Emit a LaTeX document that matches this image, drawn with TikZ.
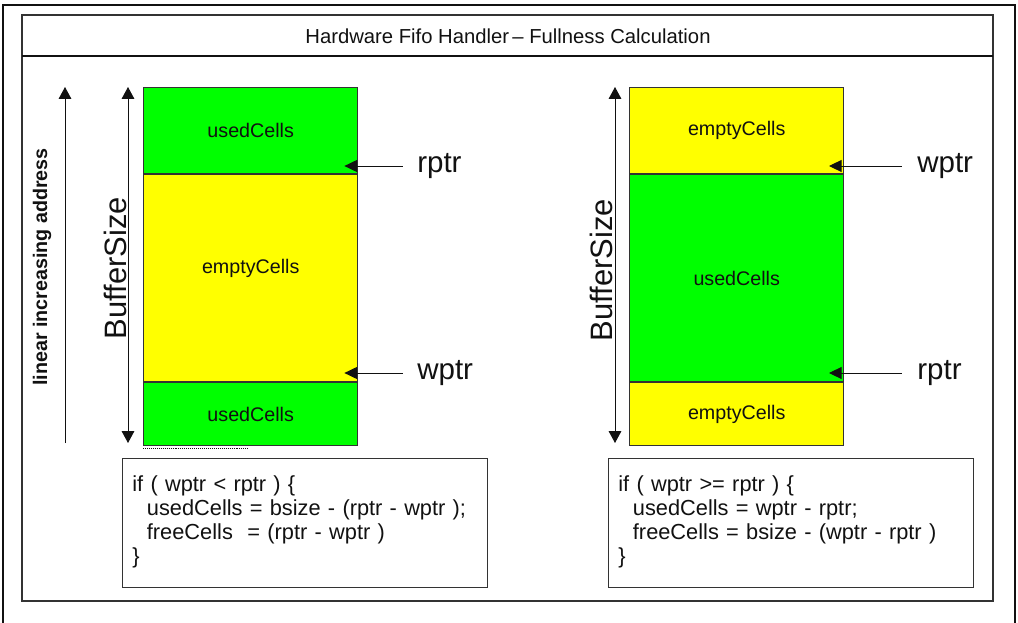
\documentclass[tikz,border=0pt]{standalone}
\usepackage{fontspec}
\setmainfont{Liberation Sans}
\usetikzlibrary{arrows.meta,positioning}
\definecolor{CellGreen}{HTML}{00FF00}
\definecolor{CellYellow}{HTML}{FFFF00}
\definecolor{Ink}{HTML}{111111}
\definecolor{Edge}{HTML}{333333}
\tikzset{
  frameline/.style={draw=Ink,line width=0.75pt},
  cell/.style={
    draw=Edge,line width=0.7pt,minimum width=5.36cm,inner sep=0pt,
    font=\fontsize{14}{16}\selectfont,text=Ink
  },
  usedcell/.style={cell,fill=CellGreen},
  freecell/.style={cell,fill=CellYellow},
  pointer/.style={-{Triangle[length=9pt,width=8.5pt]},line width=0.7pt,draw=Ink},
  sizearrow/.style={{Triangle[length=8.5pt,width=9pt]}-{Triangle[length=8.5pt,width=9pt]},line width=0.7pt,draw=Ink},
  addrarrow/.style={-{Triangle[length=8.5pt,width=9pt]},line width=0.7pt,draw=Ink},
  ptrlabel/.style={anchor=west,inner sep=0pt,font=\fontsize{21}{24}\selectfont,text=Ink},
  sizelabel/.style={rotate=90,anchor=base,inner sep=0pt,font=\fontsize{22}{24}\selectfont,text=Ink},
  codebox/.style={
    draw=Edge,line width=0.7pt,anchor=north west,
    minimum width=9.125cm,minimum height=3.225cm,
    text width=8.63cm,inner xsep=7pt,align=left,text depth=56pt,
    font=\fontsize{15.5}{17}\selectfont,text=Ink
  }
}

\begin{document}
\begin{tikzpicture}[x=0.025cm,y=-0.025cm]
  \useasboundingbox (0,0) rectangle (1018,623);
  % frames and title
  \draw[frameline] (3,623) |- (1015,5) -- (1015,623);
  \draw[frameline,draw=Edge] (22,15) rectangle (993,601);
  \draw[frameline] (22,56) -- (993,56);
  \node[font=\fontsize{14.4}{17}\selectfont,text=Ink] (title) at (508,36)
    {Hardware Fifo Handler\,– Fullness Calculation};

  % left buffer: wptr < rptr
  \node[usedcell,minimum height=2.15cm,anchor=north west] (lusedtop) at (143,87) {usedCells};
  \node[freecell,minimum height=5.175cm,text depth=16pt,below=0pt of lusedtop] (lfree) {emptyCells};
  \node[usedcell,minimum height=1.575cm,below=0pt of lfree] (lusedbot) {usedCells};
  \draw[densely dotted,Ink] ([yshift=-1.5pt]lusedbot.south west) -- ++(105,0);

  \node[ptrlabel] (lrptr) at (417,166) {rptr};
  \node[ptrlabel] (lwptr) at (417,373) {wptr};
  \draw[pointer] ([xshift=-10pt]lrptr.west) -- ([xshift=-10pt]lrptr.west -| lusedtop.east);
  \draw[pointer] ([xshift=-10pt]lwptr.west) -- ([xshift=-10pt]lwptr.west -| lfree.east);

  \coordinate (lsizetop) at (128,87);
  \coordinate (lsizebot) at (128,443);
  \draw[sizearrow] (lsizebot) -- (lsizetop);
  \node[sizelabel] (lsize) at (126,268) {BufferSize};

  \coordinate (addrlow) at (65,443);
  \coordinate (addrhigh) at (65,87);
  \draw[addrarrow] (addrlow) -- (addrhigh);
  \node[rotate=90,anchor=base,inner sep=0pt,font=\fontsize{14}{16}\selectfont\bfseries,text=Ink]
    (addr) at (47,267) {linear increasing address};

  \node[codebox] (lcode) at (122,458) {%
    if (\ wptr < rptr ) \{\\
    \ \ usedCells = bsize\ - (rptr - wptr );\\
    \ \ freeCells\ \ = (rptr - wptr )\\
    \}};

  % right buffer: wptr >= rptr
  \node[freecell,minimum height=2.15cm,anchor=north west] (rfreetop) at (629,87) {emptyCells};
  \node[usedcell,minimum height=5.175cm,below=0pt of rfreetop] (rused) {usedCells};
  \node[freecell,minimum height=1.575cm,below=0pt of rused] (rfreebot) {emptyCells};

  \node[ptrlabel] (rwptr) at (917,166) {wptr};
  \node[ptrlabel] (rrptr) at (917,373) {rptr};
  \draw[pointer] ([xshift=-11pt]rwptr.west) -- ([xshift=-11pt]rwptr.west -| rfreetop.east);
  \draw[pointer] ([xshift=-11pt]rrptr.west) -- ([xshift=-11pt]rrptr.west -| rused.east);

  \coordinate (rsizetop) at (615,87);
  \coordinate (rsizebot) at (615,443);
  \draw[sizearrow] (rsizebot) -- (rsizetop);
  \node[sizelabel] (rsize) at (612,270) {BufferSize};

  \node[codebox] (rcode) at (608,458) {%
    if (\ wptr >= rptr ) \{\\
    \ \ usedCells = wptr - rptr;\\
    \ \ freeCells = bsize\ - (wptr - rptr )\\
    \}};
\end{tikzpicture}
\end{document}
